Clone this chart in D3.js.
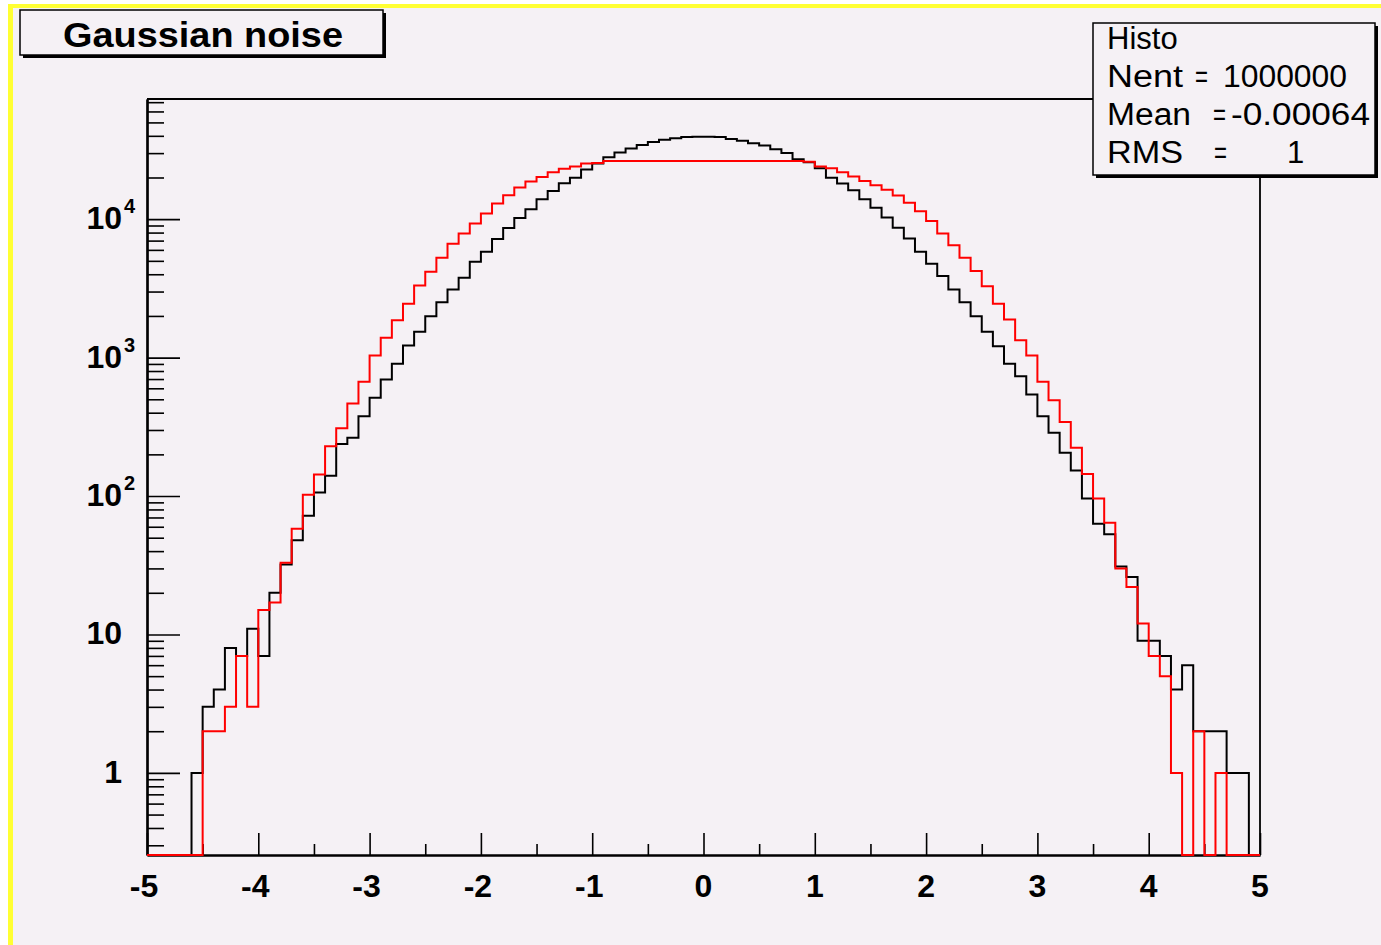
<!DOCTYPE html>
<html>
<head>
<meta charset="utf-8">
<script src="https://cdn.jsdelivr.net/npm/d3@7"></script>
<style>
  html, body { margin: 0; padding: 0; background: #ffffff; }
  svg { display: block; }
  text { font-family: "Liberation Sans", Arial, Helvetica, sans-serif; }
</style>
</head>
<body>
<div id="chart"></div>
<script>
// histogram binning: 100 bins from -5 to 5
const xMin = -5, xMax = 5, nBins = 100;
const binLow = d3.range(nBins).map(i => xMin + i * (xMax - xMin) / nBins);

// black histogram
const blackCounts = [
  0, 0, 0, 0, 1, 3, 4, 8, 7, 11,
  7, 20, 32, 48, 72, 106, 140, 238, 264, 377,
  512, 695, 902, 1222, 1535, 1990, 2515, 3100, 3775, 4930,
  5820, 7200, 8650, 10200, 11800, 13900, 16000, 18200, 19950, 22800,
  25200, 28000, 30270, 32350, 34300, 36100, 37400, 38400, 39300, 39400,
  39400, 39300, 37900, 36800, 35300, 34000, 32000, 30000, 27100, 25800,
  23300, 19950, 18100, 16200, 13900, 12100, 10300, 8680, 7250, 5820,
  4765, 3880, 3105, 2512, 1990, 1537, 1210, 902, 734, 541,
  377, 286, 205, 153, 96, 63, 53, 31, 26, 9,
  9, 7, 4, 6, 2, 2, 2, 1, 1, 0
];

// red histogram
const redCounts = [
  0, 0, 0, 0, 0, 2, 2, 3, 7, 3,
  15, 17, 33, 58, 102, 143, 229, 309, 466, 668,
  1035, 1390, 1862, 2450, 3320, 4170, 5260, 6650, 7890, 9300,
  11000, 13000, 14860, 16900, 18700, 20200, 21800, 23100, 24000, 25200,
  25500, 26300, 26300, 26300, 26300, 26300, 26300, 26300, 26300, 26300,
  26300, 26300, 26300, 26300, 26300, 26300, 26300, 26300, 26300, 26000,
  24000, 23300, 21800, 20300, 18900, 17600, 16300, 14800, 13160, 11400,
  9700, 7890, 6470, 5270, 4215, 3280, 2450, 1885, 1336, 1035,
  668, 492, 343, 223, 144, 96, 64, 30, 22, 12,
  7, 5, 1, 0, 2, 0, 1, 0, 0, 0
];

const xMajorTicks = [-5, -4, -3, -2, -1, 0, 1, 2, 3, 4, 5];
const xMinorTicks = [-4.5, -3.5, -2.5, -1.5, -0.5, 0.5, 1.5, 2.5, 3.5, 4.5];
const yDecades = [1, 10, 100, 1000, 10000];
const yDecadeBase = ["1", "10", "10", "10", "10"];
const yDecadeExp = ["", "", "2", "3", "4"];
const yRange = [0.2552, 73800];

const statsTitle = "Histo";
const statsLines = [
  ["Nent", "=", "1000000"],
  ["Mean", "=", "-0.00064"],
  ["RMS", "=", "1"]
];
const title = "Gaussian noise";

const width = 1381, height = 945;
const frame = { left: 147, right: 1260, top: 99, bottom: 855 };
const bg = "#f5f1f5";

const svg = d3.select("#chart").append("svg")
    .attr("width", width)
    .attr("height", height);

// canvas with yellow border on top and left
svg.append("rect").attr("x", 8).attr("y", 4).attr("width", width - 8).attr("height", height - 4).attr("fill", "#ffff33");
svg.append("rect").attr("x", 13).attr("y", 8).attr("width", width - 13).attr("height", height - 8).attr("fill", bg);

const x = d3.scaleLinear().domain([xMin, xMax]).range([frame.left, frame.right]);
const y = d3.scaleLog().domain(yRange).range([frame.bottom, frame.top]);

// frame (top and right)
svg.append("path")
    .attr("d", `M${frame.left},${frame.top}H${frame.right}V${frame.bottom}`)
    .attr("fill", "none").attr("stroke", "#000").attr("stroke-width", 1.8);

// x axis ticks pointing up
const xMajor = d3.axisTop(x).tickValues(xMajorTicks).tickSize(22).tickFormat("").tickSizeOuter(0);
const xMinor = d3.axisTop(x).tickValues(xMinorTicks).tickSize(11).tickFormat("").tickSizeOuter(0);
svg.append("g").attr("transform", `translate(0,${frame.bottom})`).call(xMinor);
svg.append("g").attr("transform", `translate(0,${frame.bottom})`).call(xMajor);

// y axis ticks pointing right
const yMinorTicks = [];
[0.1, 1, 10, 100, 1000, 10000].forEach(d => {
  for (let m = 2; m <= 9; m++) {
    const v = d * m;
    if (v >= yRange[0] && v <= yRange[1]) yMinorTicks.push(v);
  }
});
const yMajor = d3.axisRight(y).tickValues(yDecades).tickSize(33).tickFormat("").tickSizeOuter(0);
const yMinor = d3.axisRight(y).tickValues(yMinorTicks).tickSize(17).tickFormat("").tickSizeOuter(0);
svg.append("g").attr("transform", `translate(${frame.left},0)`).call(yMinor);
svg.append("g").attr("transform", `translate(${frame.left},0)`).call(yMajor);

svg.selectAll(".tick line").attr("stroke", "#000").attr("stroke-width", 1.6);
svg.selectAll(".domain").attr("stroke", "#000").attr("stroke-width", 2.2);

// x labels
svg.append("g").selectAll("text")
    .data(xMajorTicks)
    .enter().append("text")
    .attr("x", d => x(d) - (d < 0 ? 3 : 0))
    .attr("y", 897)
    .attr("text-anchor", "middle")
    .style("font-size", "32px")
    .style("font-weight", "bold")
    .text(d => String(d));

// y labels with superscripts
const yLab = svg.append("g").selectAll("g")
    .data(yDecades)
    .enter().append("g");
yLab.append("text")
    .attr("x", 122)
    .attr("y", d => y(d) + 10)
    .attr("text-anchor", "end")
    .style("font-size", "32px")
    .style("font-weight", "bold")
    .text((d, i) => yDecadeBase[i]);
yLab.append("text")
    .attr("x", 124)
    .attr("y", d => y(d) - 6)
    .style("font-size", "20px")
    .style("font-weight", "bold")
    .text((d, i) => yDecadeExp[i]);

// histograms
const floor = yRange[0];
function histPoints(counts) {
  const pts = [[xMin, floor]];
  counts.forEach((c, i) => pts.push([binLow[i], Math.max(c, floor)]));
  pts.push([xMax, Math.max(counts[counts.length - 1], floor)]);
  pts.push([xMax, floor]);
  return pts;
}
const step = d3.line()
    .x(d => x(d[0]))
    .y(d => y(d[1]))
    .curve(d3.curveStepAfter);

svg.append("path")
    .attr("d", step(histPoints(blackCounts)))
    .attr("fill", "none").attr("stroke", "#000").attr("stroke-width", 2);
svg.append("path")
    .attr("d", step(histPoints(redCounts)))
    .attr("fill", "none").attr("stroke", "#ff0000").attr("stroke-width", 2);

// title box
svg.append("rect").attr("x", 23).attr("y", 13).attr("width", 363).attr("height", 45).attr("fill", "#000");
svg.append("rect").attr("x", 20).attr("y", 10).attr("width", 363).attr("height", 45)
    .attr("fill", bg).attr("stroke", "#000").attr("stroke-width", 1.5);
svg.append("text")
    .attr("x", 63).attr("y", 47)
    .attr("textLength", 280).attr("lengthAdjust", "spacingAndGlyphs")
    .style("font-size", "35px").style("font-weight", "bold")
    .text(title);

// stats box
svg.append("rect").attr("x", 1096).attr("y", 26).attr("width", 282).attr("height", 152).attr("fill", "#000");
svg.append("rect").attr("x", 1093).attr("y", 23).attr("width", 282).attr("height", 152)
    .attr("fill", bg).attr("stroke", "#000").attr("stroke-width", 1.5);
svg.append("text")
    .attr("x", 1107).attr("y", 49)
    .style("font-size", "31px")
    .text(statsTitle);

const statX = [[1107, 1195, 1223], [1107, 1213, 1231], [1107, 1214, 1287]];
const statLen = [[76, 13, 124], [84, 13, 139], [76, 13, null]];
statsLines.forEach((line, r) => {
  line.forEach((s, c) => {
    const t = svg.append("text")
      .attr("x", statX[r][c]).attr("y", 87 + r * 38)
      .style("font-size", "31px")
      .text(s);
    if (statLen[r][c]) t.attr("textLength", statLen[r][c]).attr("lengthAdjust", "spacingAndGlyphs");
  });
});
</script>
</body>
</html>
